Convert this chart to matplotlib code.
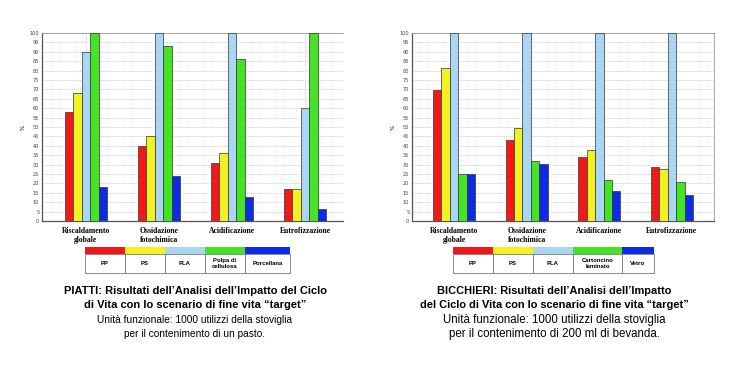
import numpy as np
import matplotlib
matplotlib.use("Agg")
import matplotlib.pyplot as plt
from matplotlib.patches import Rectangle

# Impact categories (shared by both charts)
categories = ["Riscaldamento\nglobale", "Ossidazione\nfotochimica",
              "Acidificazione", "Eutrofizzazione"]

# PIATTI (plates) - % of the worst option per category
piatti_labels = ["PP", "PS", "PLA", "Polpa di\ncellulosa", "Porcellana"]
piatti_pp = [58, 40, 31, 17]
piatti_ps = [68, 45, 36, 17]
piatti_pla = [90, 100, 100, 60]
piatti_polpa = [100, 93, 86, 100]
piatti_porcellana = [18, 24, 12.5, 6.5]

# BICCHIERI (cups)
bicchieri_labels = ["PP", "PS", "PLA", "Cartoncino\nlaminato", "Vetro"]
bicchieri_pp = [69.5, 43, 34, 28.5]
bicchieri_ps = [81.5, 49.5, 37.5, 27.5]
bicchieri_pla = [100, 100, 100, 100]
bicchieri_cartoncino = [25, 32, 22, 21]
bicchieri_vetro = [25, 30.5, 16, 14]

colors = ["#F01818", "#F2F222", "#A8D6F4", "#44E424", "#0C2AE8"]

piatti_caption = ["PIATTI: Risultati dell\u2019Analisi dell\u2019Impatto del Ciclo",
                  "di Vita con lo scenario di fine vita \u201ctarget\u201d",
                  "Unit\u00e0 funzionale: 1000 utilizzi della stoviglia",
                  "per il contenimento di un pasto."]
bicchieri_caption = ["BICCHIERI: Risultati dell\u2019Analisi dell\u2019Impatto",
                     "del Ciclo di Vita con lo scenario di fine vita \u201ctarget\u201d",
                     "Unit\u00e0 funzionale: 1000 utilizzi della stoviglia",
                     "per il contenimento di 200 ml di bevanda."]

W, H = 750, 368
fig = plt.figure(figsize=(W / 100, H / 100), dpi=100)
fig.patch.set_facecolor("white")


def px_axes(x0, y0, x1, y1):
    # axes from pixel box (top-left origin)
    return fig.add_axes([x0 / W, 1 - y1 / H, (x1 - x0) / W, (y1 - y0) / H])


def draw_chart(ax, series, xlim, frame_right):
    x = np.arange(len(categories))
    w = 0.116
    for i, vals in enumerate(series):
        ax.bar(x + (i - 2) * w, vals, w, color=colors[i],
               edgecolor="#333333", linewidth=0.5, zorder=3)
    ax.set_xlim(*xlim)
    ax.set_ylim(0, 100)
    ax.set_yticks(range(0, 101, 5))
    ax.tick_params(axis="y", labelsize=3.6, length=0, pad=2,
                   labelcolor="#444444")
    ax.set_xticks(x)
    ax.set_xticklabels(categories, fontfamily="Liberation Serif",
                       fontweight="bold", fontsize=5.5, linespacing=1.3)
    ax.tick_params(axis="x", length=0, pad=4)
    ax.grid(True, linestyle=(0, (1.5, 1.5)), color="#bbbbbb",
            linewidth=0.5, zorder=0)
    ax.set_ylabel("%", fontsize=4, labelpad=3)
    for s in ["left", "bottom"]:
        ax.spines[s].set_color("#555555")
        ax.spines[s].set_linewidth(0.9)
    ax.spines["top"].set_color("#999999")
    ax.spines["top"].set_linewidth(0.6)
    if frame_right:
        ax.spines["right"].set_color("#999999")
        ax.spines["right"].set_linewidth(0.6)
    else:
        ax.spines["right"].set_visible(False)


def draw_legend(box, widths, labels):
    lx = px_axes(*box)
    total = sum(widths)
    hgt = box[3] - box[1]
    lx.set_xlim(0, total)
    lx.set_ylim(0, hgt)
    lx.axis("off")
    left = 0
    for wd, lab, col in zip(widths, labels, colors):
        lx.add_patch(Rectangle((left, hgt - 7), wd, 7, facecolor=col,
                               edgecolor="none", clip_on=False))
        lx.add_patch(Rectangle((left, 0), wd, hgt - 7, facecolor="white",
                               edgecolor="#777777", linewidth=0.6,
                               clip_on=False))
        lx.text(left + wd / 2, (hgt - 7) / 2, lab, ha="center", va="center",
                fontsize=4.3, fontfamily="Liberation Sans", fontweight="bold",
                linespacing=1.1)
        left += wd


def draw_caption(cx, lines, sizes):
    ys = [291, 305, 320, 334]
    for i, (y, line) in enumerate(zip(ys, lines)):
        fig.text(cx / W, 1 - y / H, line, ha="center", va="center",
                 fontsize=sizes[0] if i < 2 else sizes[1],
                 fontfamily="Liberation Sans",
                 fontweight="bold" if i < 2 else "normal")


ax1 = px_axes(42, 33, 343, 221)
draw_chart(ax1, [piatti_pp, piatti_ps, piatti_pla, piatti_polpa,
                 piatti_porcellana], (-0.6, 3.52), False)
ax2 = px_axes(412, 33, 714, 221)
draw_chart(ax2, [bicchieri_pp, bicchieri_ps, bicchieri_pla,
                 bicchieri_cartoncino, bicchieri_vetro], (-0.58, 3.58), True)

draw_legend((85, 247, 290, 273), [40, 40, 40, 40, 45], piatti_labels)
draw_legend((453, 247, 654, 273), [40, 40, 40, 49, 32], bicchieri_labels)

draw_caption(195, piatti_caption, (8.0, 7.3))
draw_caption(554, bicchieri_caption, (7.9, 8.3))

fig.savefig("out.png", dpi=100, facecolor="white")
